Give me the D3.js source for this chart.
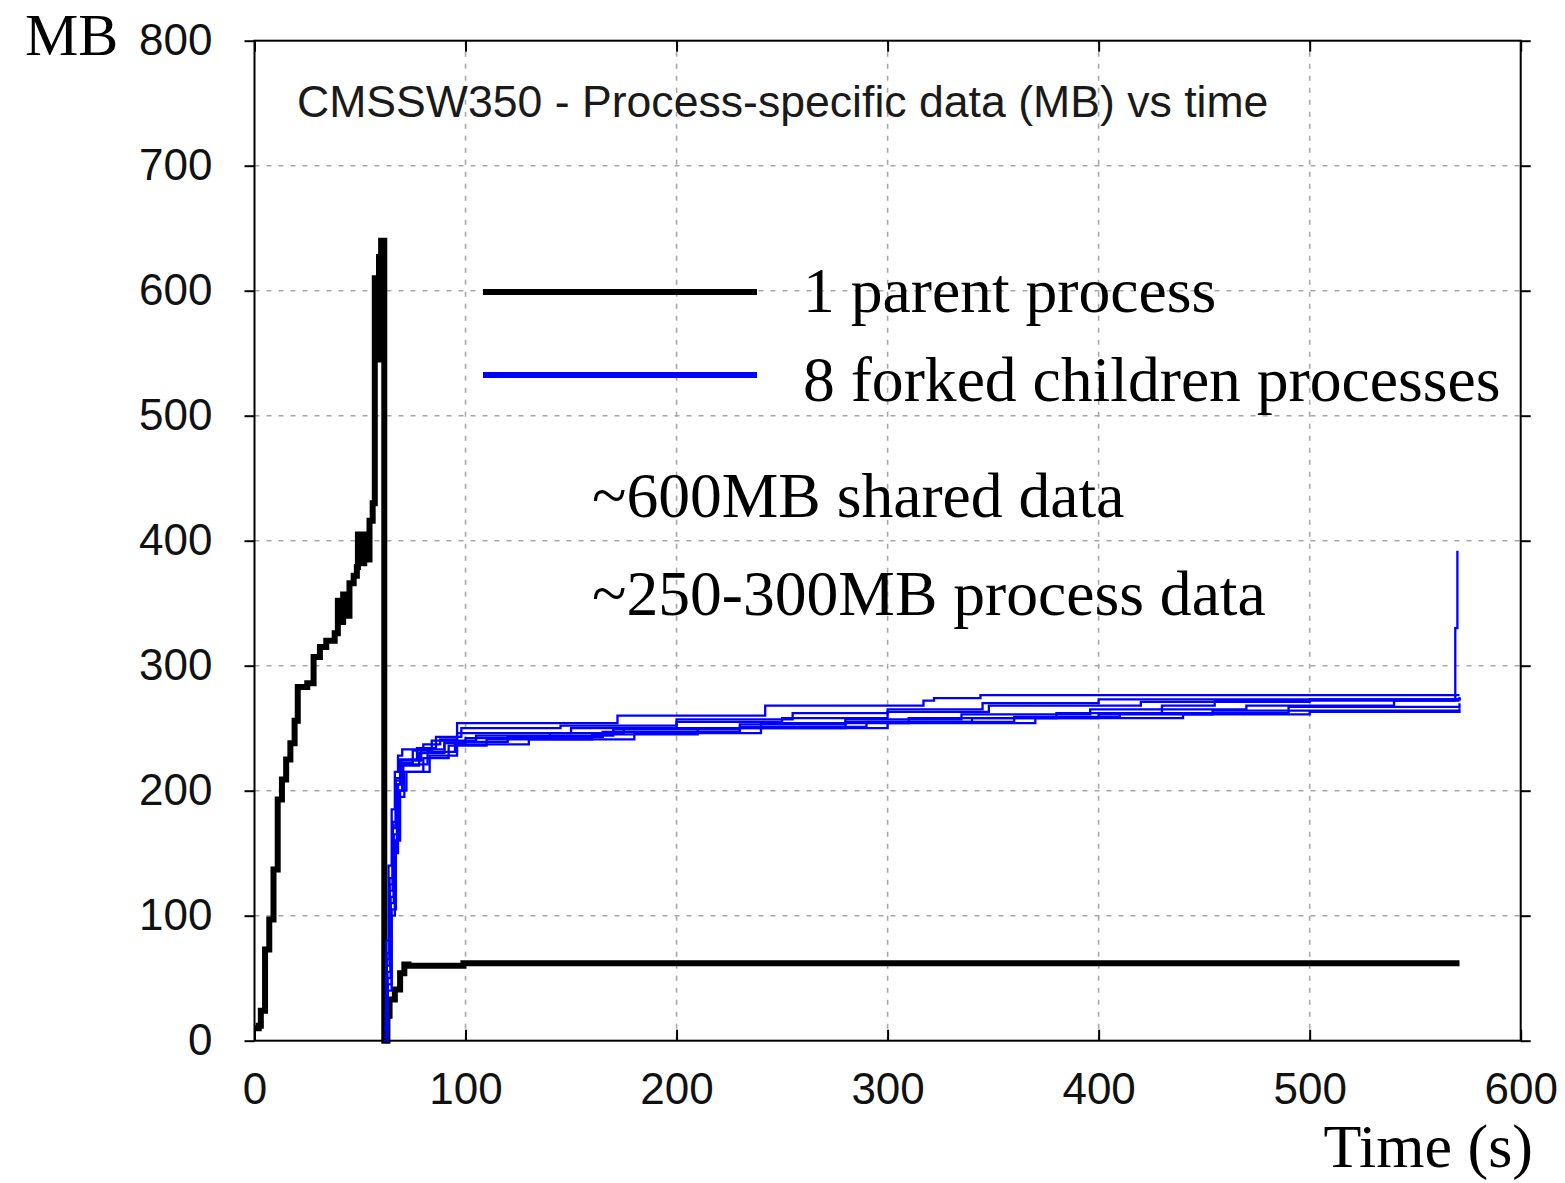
<!DOCTYPE html>
<meta charset="utf-8">
<style>
    body { margin: 0; background: white; }
    .grid line { stroke: #a8a8a8; stroke-width: 1.6px; stroke-dasharray: 5, 7; }
    .axis path { display: none; }
    .axis line { stroke: black; stroke-width: 2px; }
    .axis text { font: 44px "Liberation Sans", Arial, sans-serif; fill: #111; }
    .serif { font-family: "Liberation Serif", "Times New Roman", serif; fill: black; }
</style>

<body>
    <svg id="chart" width="1565" height="1183"></svg>
    <script src="https://d3js.org/d3.v7.min.js"></script>
    <script>

        // tick values
        const xTicks = [0, 100, 200, 300, 400, 500, 600];
        const yTicks = [0, 100, 200, 300, 400, 500, 600, 700, 800];

        // parent process: [time (s), MB]
        const parent = [[0, 10], [2, 12], [3, 24], [5, 73], [7, 97], [9, 137], [11, 193], [13, 209],
            [15, 225], [17, 238], [19, 256], [20.5, 283], [25, 286], [28, 307], [31, 315], [34, 320],
            [38, 326], [39.5, 352], [41, 335], [42, 357], [44, 340], [45, 366], [47, 372], [48.5, 379],
            [49, 405], [50, 382], [52, 405], [53, 385], [54.5, 416], [56, 430], [57, 610], [58.5, 545],
            [59, 627], [60, 640], [61.5, 0], [63, 20], [64, 33], [66.5, 41], [69, 54], [71, 61],
            [73, 60], [99, 62], [571, 62]];

        // 8 forked children
        const child1 = [[61.5, 20], [62.5, 80], [63.5, 140], [65, 185], [66.5, 215], [68, 228], [70, 233],
            [80, 237], [88, 241], [96, 254], [172, 260], [242, 268], [317, 272], [322, 274], [344, 276.5], [571, 276.5]];
        const child2 = [[61.5, 10], [62.5, 60], [64, 120], [65.5, 170], [67, 205], [69, 222], [75, 232],
            [84, 240], [96, 246], [150, 250], [200, 255], [250, 258], [300, 263], [348, 268], [420, 271], [500, 273], [571, 274]];
        const child3 = [[61.5, 5], [63, 50], [64.5, 110], [66, 160], [67.5, 200], [70, 220], [78, 230],
            [90, 238], [100, 242], [140, 246], [175, 250], [240, 254], [310, 258], [380, 262], [430, 268], [455, 272], [571, 272]];
        const child4 = [[61.5, 0], [63, 40], [65, 100], [66.5, 150], [68, 195], [71, 215], [80, 226],
            [92, 236], [110, 241], [160, 245], [210, 250], [280, 255], [360, 259], [410, 262], [490, 267], [571, 270]];
        const child5 = [[61.5, 15], [62.5, 70], [64, 130], [65.5, 175], [67, 210], [69, 225], [77, 234],
            [86, 243], [98, 250], [145, 252], [200, 257], [255, 262], [300, 265], [345, 270], [400, 273], [571, 275]];
        const child6 = [[61.5, 8], [63, 55], [64.5, 115], [66, 165], [68, 205], [70.5, 221], [82, 231],
            [95, 239], [120, 243], [165, 247], [230, 251], [290, 255], [340, 258], [400, 261], [454, 264], [571, 264]];
        const child7 = [[61.5, 3], [63, 45], [65, 105], [67, 160], [69, 200], [72, 215], [83, 228],
            [96, 237], [130, 241], [180, 246], [240, 250], [300, 254], [370, 258], [440, 261], [500, 263], [571, 266]];
        const child8 = [[61.5, 12], [62.5, 65], [64, 125], [65.5, 172], [67, 208], [69.5, 224], [79, 233],
            [90, 240], [105, 244], [170, 249], [230, 253], [280, 257], [335, 261], [396, 265], [470, 268],
            [540, 272], [568.5, 272], [569, 330], [570, 392]];
        const children = [child1, child2, child3, child4, child5, child6, child7, child8];

        const legendLabels = ["1 parent process", "8 forked children processes"];
        const notes = ["~600MB shared data", "~250-300MB process data"];

        const svg = d3.select("#chart");
        const x = d3.scaleLinear().domain([0, 600]).range([254.5, 1520.7]);
        const y = d3.scaleLinear().domain([0, 800]).range([1040.7, 40.7]);

        // grid
        const grid = svg.append("g").attr("class", "grid");
        grid.selectAll("line.h")
            .data(yTicks.filter(d => d > 0 && d < 800))
            .enter().append("line")
            .attr("x1", x(0)).attr("x2", x(600))
            .attr("y1", d => y(d)).attr("y2", d => y(d));
        grid.selectAll("line.v")
            .data(xTicks.filter(d => d > 0 && d < 600))
            .enter().append("line")
            .attr("y1", y(0)).attr("y2", y(800))
            .attr("x1", d => x(d)).attr("x2", d => x(d));

        // axes
        svg.append("g").attr("class", "axis")
            .attr("transform", `translate(${x(0)},0)`)
            .call(d3.axisLeft(y).tickValues(yTicks).tickSize(10).tickPadding(32).tickSizeOuter(0));
        svg.append("g").attr("class", "axis")
            .attr("transform", `translate(${x(600)},0)`)
            .call(d3.axisRight(y).tickValues(yTicks).tickSize(10).tickSizeOuter(0).tickFormat(""));
        svg.append("g").attr("class", "axis")
            .attr("transform", `translate(0,${y(0)})`)
            .call(d3.axisBottom(x).tickValues(xTicks).tickSizeInner(-11).tickSizeOuter(0).tickPadding(32));
        svg.append("g").attr("class", "axis")
            .attr("transform", `translate(0,${y(800)})`)
            .call(d3.axisTop(x).tickValues(xTicks).tickSizeInner(-11).tickSizeOuter(0).tickFormat(""));

        // frame
        svg.append("rect")
            .attr("x", x(0)).attr("y", y(800))
            .attr("width", x(600) - x(0)).attr("height", y(0) - y(800))
            .attr("fill", "none").attr("stroke", "black").attr("stroke-width", 2);

        // title
        svg.append("text")
            .attr("x", 297).attr("y", 117)
            .style("font", '44.6px "Liberation Sans", Arial, sans-serif')
            .attr("fill", "#1a1a1a")
            .text("CMSSW350 - Process-specific data (MB) vs time");

        const line = d3.line()
            .x(d => x(d[0]))
            .y(d => y(d[1]))
            .curve(d3.curveStepAfter);

        svg.append("path")
            .datum(parent)
            .attr("d", line)
            .attr("fill", "none")
            .attr("stroke", "black")
            .attr("stroke-width", 6);

        svg.selectAll("path.child")
            .data(children)
            .enter().append("path")
            .attr("class", "child")
            .attr("d", line)
            .attr("fill", "none")
            .attr("stroke", "#0000ff")
            .attr("stroke-width", 2.3);

        // legend
        const legendColors = ["black", "#0000ff"];
        const legendY = [292, 375];
        const legendTextY = [312, 401];
        legendLabels.forEach((lbl, i) => {
            svg.append("line")
                .attr("x1", 483).attr("x2", 757)
                .attr("y1", legendY[i]).attr("y2", legendY[i])
                .attr("stroke", legendColors[i]).attr("stroke-width", 6);
            svg.append("text").attr("class", "serif")
                .attr("x", 803).attr("y", legendTextY[i])
                .style("font-size", "63.6px")
                .text(lbl);
        });

        const noteY = [517, 615];
        notes.forEach((n, i) => {
            svg.append("text").attr("class", "serif")
                .attr("x", 592).attr("y", noteY[i])
                .style("font-size", "63.6px")
                .text(n);
        });

        svg.append("text").attr("class", "serif")
            .attr("x", 25).attr("y", 55)
            .style("font-size", "60px")
            .text("MB");

        svg.append("text").attr("class", "serif")
            .attr("x", 1533).attr("y", 1167)
            .attr("text-anchor", "end")
            .style("font-size", "62px")
            .text("Time (s)");

    </script>
</body>

</html>
